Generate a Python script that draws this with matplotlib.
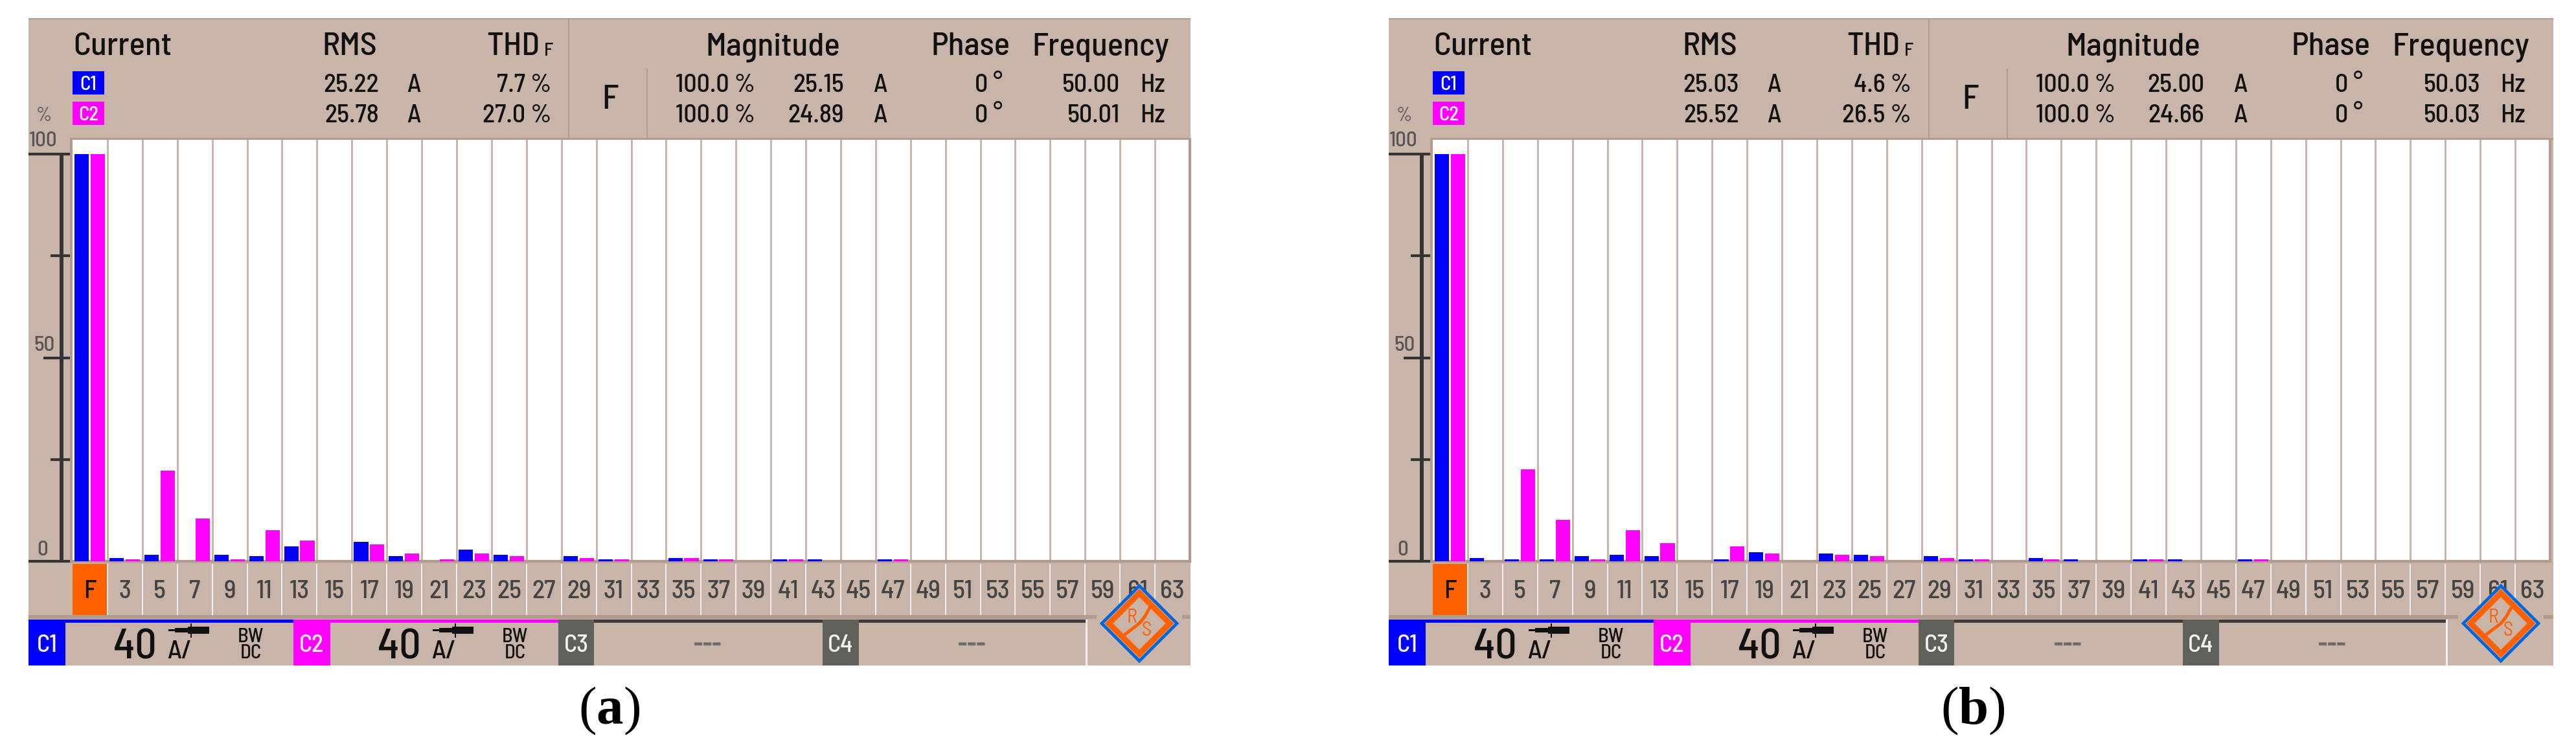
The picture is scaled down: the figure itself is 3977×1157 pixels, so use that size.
import matplotlib
matplotlib.use('Agg')
import matplotlib.pyplot as plt
from matplotlib import font_manager as fm
from matplotlib.patches import Rectangle, Polygon

W, H = 3977, 1157
harmonics = ['F'] + [str(n) for n in range(3, 65, 2)]

a_c1 = [100, 0.74, 1.6, 0, 1.6, 1.3, 3.6, 0, 4.8, 1.2, 0, 2.9, 1.6, 0, 1.2, 0.5,
        0, 0.85, 0.4, 0, 0.4, 0.4, 0, 0.4, 0, 0, 0, 0, 0, 0, 0, 0]
a_c2 = [100, 0.4, 22.3, 10.5, 0.4, 7.7, 5.1, 0, 4.1, 1.9, 0.5, 1.9, 1.2, 0, 0.8, 0.5,
        0, 0.85, 0.4, 0, 0.4, 0, 0, 0.4, 0, 0, 0, 0, 0, 0, 0, 0]
b_c1 = [100, 0.8, 0.5, 0.5, 1.2, 1.6, 1.2, 0, 0.5, 2.3, 0, 1.9, 1.6, 0, 1.2, 0.5,
        0, 0.8, 0.4, 0, 0.4, 0.4, 0, 0.4, 0, 0, 0, 0, 0, 0, 0, 0]
b_c2 = [100, 0, 22.6, 10.2, 0.5, 7.7, 4.5, 0, 3.6, 1.9, 0, 1.6, 1.2, 0, 0.8, 0.5,
        0, 0.5, 0, 0, 0.4, 0, 0, 0.4, 0, 0, 0, 0, 0, 0, 0, 0]

a_rms = ['25.22', '25.78']
a_thd = ['7.7 %', '27.0 %']
a_mag = ['25.15', '24.89']
a_freq = ['50.00', '50.01']
b_rms = ['25.03', '25.52']
b_thd = ['4.6 %', '26.5 %']
b_mag = ['25.00', '24.66']
b_freq = ['50.03', '50.03']

BG = '#c9b4a9'
DARK = '#b39a8e'
GRID = '#c9b0a5'
BLUE = '#0000ff'
MAG = '#ff00ff'
ORANGE = '#ff6000'
GRAY = '#5f605a'

avail = {f.name for f in fm.fontManager.ttflist}
NARROW = next((n for n in ['Barlow Semi Condensed', 'Encode Sans Condensed', 'Archivo Narrow',
                           'Open Sans'] if n in avail), 'DejaVu Sans')


def pt(px):
    return px * 72 / 100


fig = plt.figure(figsize=(W / 100, H / 100), dpi=100, facecolor='white')
bgax = fig.add_axes([0, 0, 1, 1], zorder=0)
bgax.set_xlim(0, W)
bgax.set_ylim(H, 0)
bgax.axis('off')
topax = fig.add_axes([0, 0, 1, 1], zorder=3)
topax.set_xlim(0, W)
topax.set_ylim(H, 0)
topax.axis('off')
topax.patch.set_alpha(0)


def rect(ax, x0, y0, x1, y1, c, z=1):
    ax.add_patch(Rectangle((x0, y0), x1 - x0, y1 - y0, fc=c, ec='none', zorder=z))


def txt(x, y, s, size, ha='left', c='#111111', weight='medium'):
    bgax.text(x, y, s, fontsize=pt(size), ha=ha, va='baseline', color=c,
              family=NARROW, zorder=5, weight=weight)


def panel(dx, right, c1, c2, rms, thd, mag, freq, logo_x):
    rect(bgax, 44 + dx, 28, right, 1028, BG)
    rect(bgax, 44 + dx, 28, right, 30, DARK, 2)
    rect(bgax, 108 + dx, 213, right, 216, DARK, 2)
    rect(bgax, 108 + dx, 216, 112 + dx, 870, DARK, 2)
    rect(bgax, 877 + dx, 30, 879 + dx, 213, DARK, 2)
    rect(bgax, 998 + dx, 106, 1000 + dx, 213, DARK, 2)
    rect(bgax, 44 + dx, 950, right, 956, DARK, 2)

    txt(113 + dx, 85, 'Current', 51)
    txt(497 + dx, 85, 'RMS', 51)
    txt(751 + dx, 85, 'THD', 51)
    txt(840 + dx, 86, 'F', 29)
    txt(1089 + dx, 85, 'Magnitude', 51)
    txt(1437 + dx, 85, 'Phase', 51)
    txt(1593 + dx, 85, 'Frequency', 51)
    txt(942 + dx, 168, 'F', 52, ha='center')

    for i, (base, ytop, col, name) in enumerate([(142, 110, BLUE, 'C1'), (189, 157, MAG, 'C2')]):
        rect(bgax, 112 + dx, ytop, 161 + dx, ytop + 36, col, 2)
        txt(136.5 + dx, ytop + 29, name, 31, ha='center', c='white')
        txt(585 + dx, base, rms[i], 40, ha='right')
        txt(628 + dx, base, 'A', 40)
        txt(851 + dx, base, thd[i], 40, ha='right')
        txt(1166 + dx, base, '100.0 %', 40, ha='right')
        txt(1303 + dx, base, mag[i], 40, ha='right')
        txt(1348 + dx, base, 'A', 40)
        txt(1548 + dx, base, '0 °', 40, ha='right')
        txt(1729 + dx, base, freq[i], 40, ha='right')
        txt(1760 + dx, base, 'Hz', 40)

    txt(68 + dx, 187, '%', 30, ha='center', c='#666666')
    txt(67 + dx, 226, '100', 33, ha='center', c='#555555')
    txt(68 + dx, 542, '50', 33, ha='center', c='#555555')
    txt(66 + dx, 858, '0', 33, ha='center', c='#555555')

    rect(bgax, 44 + dx, 957, 453 + dx, 962, BLUE, 2)
    rect(bgax, 453 + dx, 957, 862 + dx, 962, MAG, 2)
    rect(bgax, 862 + dx, 957, 1676 + dx, 962, '#3d3d3d', 2)
    rect(bgax, 1676 + dx, 957, 1679 + dx, 1028, '#f3ece8', 2)
    for x0, x1, col, name in [(44, 101, BLUE, 'C1'), (453, 510, MAG, 'C2'),
                              (862, 917, GRAY, 'C3'), (1270, 1326, GRAY, 'C4')]:
        rect(bgax, x0 + dx, 957, x1 + dx, 1028, col, 3)
        txt((x0 + x1) / 2 + dx, 1007, name, 38, ha='center', c='#f5f0ee')
    for off in (0, 408):
        xo = dx + off
        txt(208 + xo, 1017, '40', 66, ha='center')
        txt(258 + xo, 1017, 'A/', 41)
        txt(387 + xo, 992, 'BW', 31, ha='center')
        txt(387 + xo, 1017, 'DC', 31, ha='center')
        rect(bgax, 260 + xo, 972, 272 + xo, 975, '#111111', 6)
        rect(bgax, 270 + xo, 970, 292 + xo, 977, '#111111', 6)
        rect(bgax, 290 + xo, 968, 323 + xo, 979, '#111111', 6)
        rect(bgax, 294 + xo, 963, 296 + xo, 985, '#111111', 6)
    txt(1092 + dx, 1006, '---', 38, ha='center', c='#6b6b6b', weight='bold')
    txt(1500 + dx, 1006, '---', 38, ha='center', c='#6b6b6b', weight='bold')

    ax = fig.add_axes([(112 + dx) / W, (H - 867) / H, 1725 / W, (867 - 216) / H],
                      zorder=1, facecolor='white')
    pos = list(range(len(harmonics)))
    ax.set_xlim(-0.5, len(harmonics) - 0.5)
    ax.set_ylim(0, 103.5)
    ax.bar([p - 0.235 for p in pos], c1, width=0.41, color=BLUE, zorder=3)
    ax.bar([p + 0.225 for p in pos], c2, width=0.41, color=MAG, zorder=3)
    for p in pos[1:]:
        ax.axvline(p - 0.5, color=GRID, lw=2, zorder=1)
    ax.axvline(len(harmonics) - 0.5, color=DARK, lw=3, zorder=1, clip_on=False)
    for s in ax.spines.values():
        s.set_visible(False)
    ax.spines['bottom'].set_visible(True)
    ax.spines['bottom'].set_color(DARK)
    ax.spines['bottom'].set_linewidth(3)
    ax.set_yticks([])
    ax.set_xticks(pos, harmonics, fontsize=pt(40), color='#444444', family=NARROW, weight='medium')
    ax.tick_params(axis='x', length=0, pad=pt(29))
    ax.get_xticklabels()[0].set_color('#111111')

    slot = 1725 / len(harmonics)
    rect(bgax, 112 + dx, 871, 112 + dx + slot, 950, ORANGE, 2)
    for p in pos[1:]:
        xs = 112 + dx + p * slot
        rect(bgax, xs - 1, 871, xs + 1, 950, '#f3ece8', 2)

    def ypx(v):
        return H - ax.transData.transform((0, v))[1]
    bgax.plot([95 + dx, 95 + dx], [ypx(100), ypx(0)], color='#333333', lw=4.3, zorder=3,
              solid_capstyle='butt')
    for v, x0 in [(100, 44), (75, 78), (50, 67), (25, 78), (0, 44)]:
        bgax.plot([x0 + dx, 108 + dx], [ypx(v), ypx(v)], color='#333333', lw=3, zorder=3,
                  solid_capstyle='butt')

    cx, cy = logo_x, 963
    rect(bgax, cx - 66, 950, cx + 66, 957, BG, 3)
    for r, col, lw in [(58, '#0066dd', 3.4), (47, ORANGE, 6.5)]:
        topax.add_patch(Polygon([(cx, cy - r), (cx + r, cy), (cx, cy + r), (cx - r, cy)],
                                closed=True, fc=BG, ec=col, lw=lw, zorder=4))
    topax.plot([cx + 17, cx + 8, cx, cx - 21], [cy - 26, cy - 10, cy, cy + 16], color=ORANGE, lw=3.6, zorder=5)
    topax.text(cx - 12, cy - 9, 'R', fontsize=pt(30), color=ORANGE, ha='center', va='center',
               family=NARROW, zorder=6)
    topax.text(cx + 11, cy + 11, 'S', fontsize=pt(30), color=ORANGE, ha='center', va='center',
               family=NARROW, zorder=6)


panel(0, 1838, a_c1, a_c2, a_rms, a_thd, a_mag, a_freq, 1759)
panel(2100, 3942, b_c1, b_c2, b_rms, b_thd, b_mag, b_freq, 3861)


def caption(x0, letter, adv):
    size = pt(83)
    kw = dict(fontsize=size, va='baseline', ha='left', color='black', family='Liberation Serif')
    bgax.text(x0, 1118, '(', **kw)
    bgax.text(x0 + 27.6, 1118, letter, weight='bold', **kw)
    bgax.text(x0 + 27.6 + adv, 1118, ')', **kw)


caption(893, 'a', 41.5)
caption(2996, 'b', 46)

fig.savefig('out.png', dpi=100, facecolor='white')
